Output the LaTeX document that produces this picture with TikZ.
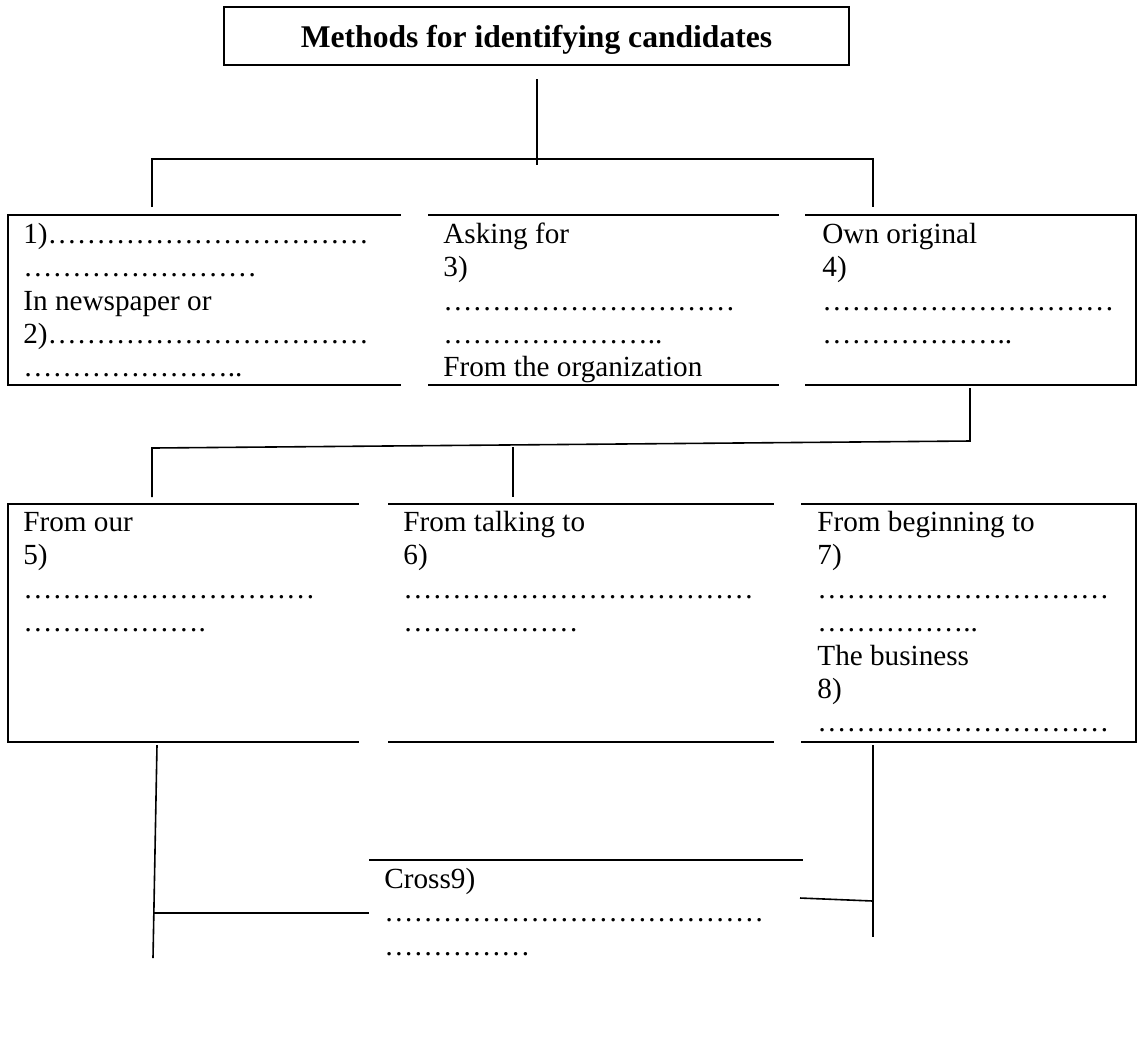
\documentclass[tikz,border=0pt]{standalone}
\usepackage{fontspec}
\setmainfont{Liberation Serif}
\newcommand{\bodyfont}{\fontsize{14.6}{16.7}\selectfont}
\newcommand{\headfont}{\fontsize{15.8}{18}\selectfont\bfseries}
\newcommand{\fillin}[1]{\foreach \k in {1,...,#1}{…}}
\tikzset{
  frame/.style={inner sep=0pt, anchor=north west},
  edge/.style={line width=1.15pt},
  link/.style={line width=0.8pt},
  txt/.style={inner sep=0pt, anchor=north west, align=left, font=\bodyfont},
}

\begin{document}
\begin{tikzpicture}[x=0.5pt, y=-0.5pt]
	%%%%% START %%%%%
	\useasboundingbox (0,0) rectangle (1139,1041);

	\node[draw, line width=0.85pt, minimum width=312.5pt, minimum height=29pt, inner sep=0pt,
		text height=20pt, text depth=9pt, font=\headfont] (title) at (536.5,36) {Methods for identifying candidates};

	% first row
	\node[frame, minimum width=196pt, minimum height=84.5pt] (b1) at (8,215) {};
	\node[frame, minimum width=175pt, minimum height=84.5pt] (b2) at (428,215) {};
	\node[frame, minimum width=165pt, minimum height=84.5pt] (b3) at (805,215) {};
	\draw[edge] (b1.north east) -- (b1.north west) -- (b1.south west) -- (b1.south east);
	\draw[edge] (b2.north west) -- (b2.north east);
	\draw[edge] (b2.south west) -- (b2.south east);
	\draw[edge] (b3.north west) -- (b3.north east) -- (b3.south east) -- (b3.south west);

	\node[txt] (t1) at (23,219.6) {\strut 1)\fillin{11}\\ \fillin{8}\\ In newspaper or\\ 2)\fillin{11}\\ \fillin{7}..};
	\node[txt] (t2) at (443,219.6) {\strut Asking for\\ 3)\\ \fillin{10}\\ \fillin{7}..\\ From the organization};
	\node[txt] (t3) at (822,219.6) {\strut Own original\\ 4)\\ \fillin{10}\\ \fillin{6}..};

	% second row
	\node[frame, minimum width=175pt, minimum height=118.5pt] (b5) at (8,504) {};
	\node[frame, minimum width=192.5pt, minimum height=118.5pt] (b6) at (388,504) {};
	\node[frame, minimum width=167pt, minimum height=118.5pt] (b7) at (801,504) {};
	\draw[edge] (b5.north east) -- (b5.north west) -- (b5.south west) -- (b5.south east);
	\draw[edge] (b6.north west) -- (b6.north east);
	\draw[edge] (b6.south west) -- (b6.south east);
	\draw[edge] (b7.north west) -- (b7.north east) -- (b7.south east) -- (b7.south west);

	\node[txt] (t5) at (23,507.6) {\strut From our\\ 5)\\ \fillin{10}\\ \fillin{6}.};
	\node[txt] (t6) at (403,507.6) {\strut From talking to\\ 6)\\ \fillin{12}\\ \fillin{6}};
	\node[txt] (t7) at (817,507.6) {\strut From beginning to\\ 7)\\ \fillin{10}\\ \fillin{5}..\\ The business\\ 8)\\ \fillin{10}};

	% bottom
	\node[frame, minimum width=216.5pt, minimum height=50pt] (b9) at (369,860) {};
	\draw[edge] (b9.north west) -- (b9.north east);
	\node[txt] (t9) at (384,864.6) {\strut Cross9)\\ \fillin{13}\\ \fillin{5}};

	% connectors
	\coordinate (r0) at (537,79);
	\coordinate (r1) at (537,165);
	\coordinate (h1) at (152,159);
	\coordinate (h3) at (873,159);
	\coordinate (u1) at (152,207);
	\coordinate (u3) at (873,207);
	\draw[link] (r0) -- (r1);
	\draw[link] (u1) -- (h1) -- (h3) -- (u3);

	\coordinate (d3) at (970,388);
	\coordinate (k3) at (970,441);
	\coordinate (k5) at (152,448);
	\coordinate (u5) at (152,497);
	\coordinate (k6) at (513,447);
	\coordinate (u6) at (513,497);
	\draw[link] (d3) -- (k3) -- (k5) -- (u5);
	\draw[link] (k6) -- (u6);

	\coordinate (d5) at (157,745);
	\coordinate (e5) at (153,958);
	\coordinate (j5) at (153,913);
	\coordinate (c9) at (369,913);
	\draw[link] (d5) -- (e5);
	\draw[link] (j5) -- (c9);

	\coordinate (d7) at (873,745);
	\coordinate (e7) at (873,937);
	\coordinate (j7) at (873,901);
	\coordinate (c9r) at (800,898);
	\draw[link] (d7) -- (e7);
	\draw[link] (c9r) -- (j7);
	%%%%% END %%%%%
\end{tikzpicture}
\end{document}
